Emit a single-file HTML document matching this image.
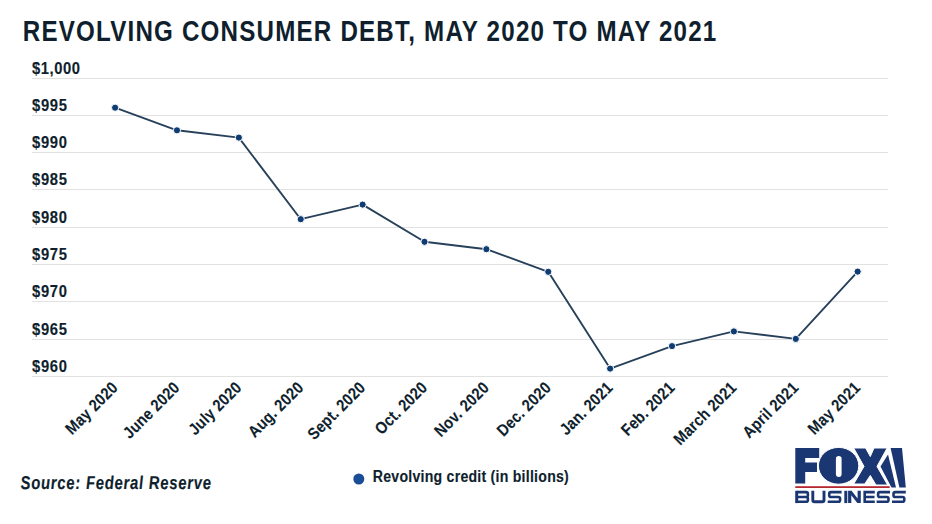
<!DOCTYPE html>
<html><head><meta charset="utf-8"><style>
html,body{margin:0;padding:0;background:#fff;width:932px;height:524px;overflow:hidden;}
svg{display:block;font-family:"Liberation Sans",sans-serif;}
</style></head><body>
<svg width="932" height="524" viewBox="0 0 932 524" font-family="Liberation Sans, sans-serif">
<text transform="translate(22.80,41.00) scale(0.8,1)" font-size="30.2" font-weight="bold" fill="#0f1f2e" textLength="866.88" lengthAdjust="spacing">REVOLVING CONSUMER DEBT, MAY 2020 TO MAY 2021</text>
<rect x="32" y="78" width="856" height="1" fill="#e2e2e2"/>
<rect x="32" y="115" width="856" height="1" fill="#e2e2e2"/>
<rect x="32" y="152" width="856" height="1" fill="#e2e2e2"/>
<rect x="32" y="189" width="856" height="1" fill="#e2e2e2"/>
<rect x="32" y="227" width="856" height="1" fill="#e2e2e2"/>
<rect x="32" y="264" width="856" height="1" fill="#e2e2e2"/>
<rect x="32" y="301" width="856" height="1" fill="#e2e2e2"/>
<rect x="32" y="339" width="856" height="1" fill="#e2e2e2"/>
<rect x="32" y="376" width="856" height="1" fill="#e2e2e2"/>
<text transform="translate(32.00,73.90) scale(0.88,1)" font-size="16.8" font-weight="bold" fill="#0f1f2e" textLength="54.55" lengthAdjust="spacing" stroke="#0f1f2e" stroke-width="0.15">$1,000</text>
<text transform="translate(32.00,110.90) scale(0.88,1)" font-size="16.8" font-weight="bold" fill="#0f1f2e" textLength="39.77" lengthAdjust="spacing" stroke="#0f1f2e" stroke-width="0.15">$995</text>
<text transform="translate(32.00,147.90) scale(0.88,1)" font-size="16.8" font-weight="bold" fill="#0f1f2e" textLength="39.77" lengthAdjust="spacing" stroke="#0f1f2e" stroke-width="0.15">$990</text>
<text transform="translate(32.00,184.90) scale(0.88,1)" font-size="16.8" font-weight="bold" fill="#0f1f2e" textLength="39.77" lengthAdjust="spacing" stroke="#0f1f2e" stroke-width="0.15">$985</text>
<text transform="translate(32.00,222.90) scale(0.88,1)" font-size="16.8" font-weight="bold" fill="#0f1f2e" textLength="39.77" lengthAdjust="spacing" stroke="#0f1f2e" stroke-width="0.15">$980</text>
<text transform="translate(32.00,259.90) scale(0.88,1)" font-size="16.8" font-weight="bold" fill="#0f1f2e" textLength="39.77" lengthAdjust="spacing" stroke="#0f1f2e" stroke-width="0.15">$975</text>
<text transform="translate(32.00,296.90) scale(0.88,1)" font-size="16.8" font-weight="bold" fill="#0f1f2e" textLength="39.77" lengthAdjust="spacing" stroke="#0f1f2e" stroke-width="0.15">$970</text>
<text transform="translate(32.00,334.90) scale(0.88,1)" font-size="16.8" font-weight="bold" fill="#0f1f2e" textLength="39.77" lengthAdjust="spacing" stroke="#0f1f2e" stroke-width="0.15">$965</text>
<text transform="translate(32.00,371.90) scale(0.88,1)" font-size="16.8" font-weight="bold" fill="#0f1f2e" textLength="39.77" lengthAdjust="spacing" stroke="#0f1f2e" stroke-width="0.15">$960</text>
<polyline points="115.10,107.70 176.98,130.30 238.86,137.60 300.74,219.20 362.62,204.60 424.50,241.80 486.38,249.20 548.26,271.80 610.14,368.60 672.02,346.10 733.90,331.40 795.78,338.90 857.66,271.60" fill="none" stroke="#28415b" stroke-width="1.9" stroke-linejoin="round"/>
<circle cx="115.10" cy="107.70" r="3.6" fill="#0f3c72" stroke="#fff" stroke-width="1"/>
<circle cx="176.98" cy="130.30" r="3.6" fill="#0f3c72" stroke="#fff" stroke-width="1"/>
<circle cx="238.86" cy="137.60" r="3.6" fill="#0f3c72" stroke="#fff" stroke-width="1"/>
<circle cx="300.74" cy="219.20" r="3.6" fill="#0f3c72" stroke="#fff" stroke-width="1"/>
<circle cx="362.62" cy="204.60" r="3.6" fill="#0f3c72" stroke="#fff" stroke-width="1"/>
<circle cx="424.50" cy="241.80" r="3.6" fill="#0f3c72" stroke="#fff" stroke-width="1"/>
<circle cx="486.38" cy="249.20" r="3.6" fill="#0f3c72" stroke="#fff" stroke-width="1"/>
<circle cx="548.26" cy="271.80" r="3.6" fill="#0f3c72" stroke="#fff" stroke-width="1"/>
<circle cx="610.14" cy="368.60" r="3.6" fill="#0f3c72" stroke="#fff" stroke-width="1"/>
<circle cx="672.02" cy="346.10" r="3.6" fill="#0f3c72" stroke="#fff" stroke-width="1"/>
<circle cx="733.90" cy="331.40" r="3.6" fill="#0f3c72" stroke="#fff" stroke-width="1"/>
<circle cx="795.78" cy="338.90" r="3.6" fill="#0f3c72" stroke="#fff" stroke-width="1"/>
<circle cx="857.66" cy="271.60" r="3.6" fill="#0f3c72" stroke="#fff" stroke-width="1"/>
<text transform="translate(118.70,388.80) rotate(-45) scale(0.88,1)" font-size="16.5" font-weight="bold" text-anchor="end" fill="#0f1f2e" textLength="75.06" lengthAdjust="spacing" stroke="#0f1f2e" stroke-width="0.1">May 2020</text>
<text transform="translate(180.58,388.80) rotate(-45) scale(0.88,1)" font-size="16.5" font-weight="bold" text-anchor="end" fill="#0f1f2e" textLength="81.61" lengthAdjust="spacing" stroke="#0f1f2e" stroke-width="0.1">June 2020</text>
<text transform="translate(242.46,388.80) rotate(-45) scale(0.88,1)" font-size="16.5" font-weight="bold" text-anchor="end" fill="#0f1f2e" textLength="76.00" lengthAdjust="spacing" stroke="#0f1f2e" stroke-width="0.1">July 2020</text>
<text transform="translate(304.34,388.80) rotate(-45) scale(0.88,1)" font-size="16.5" font-weight="bold" text-anchor="end" fill="#0f1f2e" textLength="79.72" lengthAdjust="spacing" stroke="#0f1f2e" stroke-width="0.1">Aug. 2020</text>
<text transform="translate(366.22,388.80) rotate(-45) scale(0.88,1)" font-size="16.5" font-weight="bold" text-anchor="end" fill="#0f1f2e" textLength="83.49" lengthAdjust="spacing" stroke="#0f1f2e" stroke-width="0.1">Sept. 2020</text>
<text transform="translate(428.10,388.80) rotate(-45) scale(0.88,1)" font-size="16.5" font-weight="bold" text-anchor="end" fill="#0f1f2e" textLength="75.05" lengthAdjust="spacing" stroke="#0f1f2e" stroke-width="0.1">Oct. 2020</text>
<text transform="translate(489.98,388.80) rotate(-45) scale(0.88,1)" font-size="16.5" font-weight="bold" text-anchor="end" fill="#0f1f2e" textLength="78.80" lengthAdjust="spacing" stroke="#0f1f2e" stroke-width="0.1">Nov. 2020</text>
<text transform="translate(551.86,388.80) rotate(-45) scale(0.88,1)" font-size="16.5" font-weight="bold" text-anchor="end" fill="#0f1f2e" textLength="77.87" lengthAdjust="spacing" stroke="#0f1f2e" stroke-width="0.1">Dec. 2020</text>
<text transform="translate(613.74,388.80) rotate(-45) scale(0.88,1)" font-size="16.5" font-weight="bold" text-anchor="end" fill="#0f1f2e" textLength="76.00" lengthAdjust="spacing" stroke="#0f1f2e" stroke-width="0.1">Jan. 2021</text>
<text transform="translate(675.62,388.80) rotate(-45) scale(0.88,1)" font-size="16.5" font-weight="bold" text-anchor="end" fill="#0f1f2e" textLength="76.92" lengthAdjust="spacing" stroke="#0f1f2e" stroke-width="0.1">Feb. 2021</text>
<text transform="translate(737.50,388.80) rotate(-45) scale(0.88,1)" font-size="16.5" font-weight="bold" text-anchor="end" fill="#0f1f2e" textLength="91.93" lengthAdjust="spacing" stroke="#0f1f2e" stroke-width="0.1">March 2021</text>
<text transform="translate(799.38,388.80) rotate(-45) scale(0.88,1)" font-size="16.5" font-weight="bold" text-anchor="end" fill="#0f1f2e" textLength="80.67" lengthAdjust="spacing" stroke="#0f1f2e" stroke-width="0.1">April 2021</text>
<text transform="translate(861.26,388.80) rotate(-45) scale(0.88,1)" font-size="16.5" font-weight="bold" text-anchor="end" fill="#0f1f2e" textLength="75.06" lengthAdjust="spacing" stroke="#0f1f2e" stroke-width="0.1">May 2021</text>
<text transform="translate(20.80,488.80) scale(0.8,1) skewX(3.5)" font-size="18.6" font-weight="bold" font-style="italic" fill="#0f1f2e" textLength="238.12" lengthAdjust="spacing" stroke="#0f1f2e" stroke-width="0.15">Source: Federal Reserve</text>
<circle cx="358.8" cy="479" r="5.5" fill="#1a4d96"/>
<text transform="translate(372.80,481.60) scale(0.85,1)" font-size="16.6" font-weight="bold" fill="#0f1f2e" textLength="230.59" lengthAdjust="spacing" stroke="#0f1f2e" stroke-width="0.15">Revolving credit (in billions)</text>
<g fill="#1a3673">
<path d="M795.3,448 H819.2 V458 H805.2 V462.4 H817 V472.1 H805.2 V483.4 H795.3 Z"/>
<ellipse cx="838.6" cy="465.8" rx="20.2" ry="18.4" stroke="#fff" stroke-width="1"/>
<rect x="835.9" y="455.9" width="5.7" height="21" rx="2.85" fill="#fff"/>
<path stroke="#fff" stroke-width="1" d="M853.7,448 H865.6 L870.3,456.5 L874,448 H887.2 L877,466.4 L887.6,485 H876 L870.3,475.5 L864.7,484 H853.7 L864,466.4 Z"/>
<path d="M880.5,466.4 L888,454.5 L896,487.5 H891.5 Z"/>
<path d="M890.6,448 H902 L905.8,487.5 H899.4 Z"/>
</g>
<rect x="795.3" y="486.2" width="94.4" height="1.8" fill="#b52a30"/>
<g fill="none" stroke="#1a3673" stroke-width="2.6">
<path d="M796.7,490.8 V503.1" stroke-width="3"/>
<path d="M796.7,492.1 H806.1 Q807.9,492.1 807.9,493.9 V495.15 Q807.9,496.95 806.1,496.95 H796.7 M806.1,496.95 Q807.9,496.95 807.9,498.75 V500 Q807.9,501.8 806.1,501.8 H796.7"/>
<path d="M812.8,490.8 V500 Q812.8,501.8 814.6,501.8 H822.2 Q824,501.8 824,500 V490.8" stroke-width="2.9"/>
<path d="M841.6,492.1 H831.0 Q829.2,492.1 829.2,493.9 V495.15 Q829.2,496.95 831.0,496.95 H838.3 Q840.1,496.95 840.1,498.75 V500 Q840.1,501.8 838.3,501.8 H827.7"/>
<path d="M890.0,492.1 H879.9 Q878.1,492.1 878.1,493.9 V495.15 Q878.1,496.95 879.9,496.95 H886.7 Q888.5,496.95 888.5,498.75 V500 Q888.5,501.8 886.7,501.8 H876.6"/>
<path d="M905.8,492.1 H895.3 Q893.5,492.1 893.5,493.9 V495.15 Q893.5,496.95 895.3,496.95 H902.5 Q904.3,496.95 904.3,498.75 V500 Q904.3,501.8 902.5,501.8 H892.0"/>
<path d="M845.8,490.8 V503.1" stroke-width="3"/>
<path d="M874.8,492.1 H864.7 V501.8 H874.8 M864.7,496.95 H874.5"/>
</g>
<path fill="#1a3673" d="M848.1,490.8 H851.6 L857.6,498.6 V490.8 H860.8 V503.1 H857.3 L851.3,495.3 V503.1 H848.1 Z"/>
</svg>
</body></html>
